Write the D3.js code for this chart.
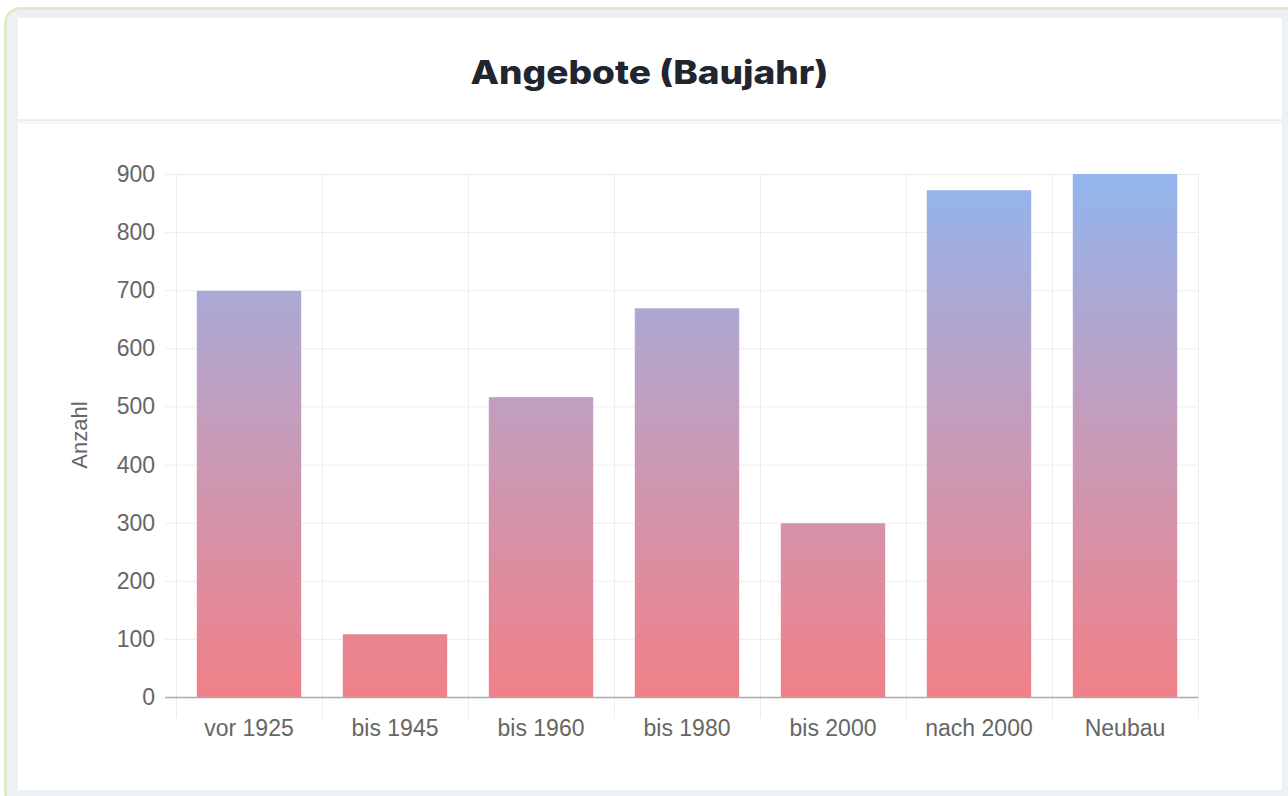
<!DOCTYPE html>
<html><head><meta charset="utf-8">
<script src="https://cdn.jsdelivr.net/npm/d3@7"></script>
<style>html,body{margin:0;padding:0;background:#fff;overflow:hidden}</style>
</head><body>
<svg id="c" width="1288" height="796"></svg>
<script>
const categories = ["vor 1925","bis 1945","bis 1960","bis 1980","bis 2000","nach 2000","Neubau"];
const values = [699, 108, 516, 669, 299, 872, 900];
const yTicks = [0,100,200,300,400,500,600,700,800,900];
const title = "Angebote (Baujahr)";
const yTitle = "Anzahl";

(function(){
const svg = d3.select("#c");
// card
svg.append("rect").attr("x",5.5).attr("y",8.5).attr("width",1300).attr("height",800).attr("rx",15)
  .attr("fill","#edf1f5").attr("stroke","#e2e9c8").attr("stroke-width",3);
svg.append("rect").attr("x",18).attr("y",18).attr("width",1264).attr("height",772).attr("fill","#fff");
svg.append("rect").attr("x",18).attr("y",119).attr("width",1264).attr("height",2).attr("fill","#eceef1");
svg.append("rect").attr("x",18).attr("y",121).attr("width",1264).attr("height",3).attr("fill","#f7f8f9");

svg.append("text").attr("x",649.5).attr("y",84).attr("text-anchor","middle")
  .attr("font-family","Inter, 'Open Sans', sans-serif").attr("font-weight",800)
  .attr("font-size",32).attr("fill","#21252f")
  .attr("textLength",358).attr("lengthAdjust","spacingAndGlyphs").text(title);

const pLeft=176, pRight=1198, pTop=174, pBottom=697;
const x = d3.scaleBand().domain(categories).range([pLeft,pRight]).paddingInner(0).paddingOuter(0);
const y = d3.scaleLinear().domain([0,900]).range([pBottom,pTop]);

const defs = svg.append("defs");
const g = defs.append("linearGradient").attr("id","grad").attr("gradientUnits","userSpaceOnUse")
  .attr("x1",0).attr("x2",0).attr("y1",y(900)).attr("y2",y(0));
g.append("stop").attr("offset","0%").attr("stop-color","#92b5ee");
g.append("stop").attr("offset","50%").attr("stop-color","#c79bb9");
g.append("stop").attr("offset","100%").attr("stop-color","#f08088");

const grid = svg.append("g");
grid.selectAll("line.h").data(yTicks.filter(d=>d>0)).join("line")
  .attr("x1",pLeft-11).attr("x2",pRight).attr("y1",d=>y(d)+0.5).attr("y2",d=>y(d)+0.5)
  .attr("stroke","#ededed").attr("stroke-width",1);
const bounds = categories.map(c=>x(c)).concat([pRight]);
grid.selectAll("line.v").data(bounds).join("line")
  .attr("x1",d=>d+0.5).attr("x2",d=>d+0.5).attr("y1",pTop).attr("y2",pBottom+21)
  .attr("stroke","#ededed").attr("stroke-width",1);

const bw = x.bandwidth()*0.715;
svg.append("g").selectAll("rect").data(values).join("rect")
  .attr("x",(d,i)=>x(categories[i])+(x.bandwidth()-bw)/2)
  .attr("width",bw)
  .attr("y",d=>y(d)).attr("height",d=>y(0)-y(d))
  .attr("fill","url(#grad)");

svg.append("line").attr("x1",pLeft-11).attr("x2",pRight).attr("y1",pBottom+0.5).attr("y2",pBottom+0.5)
  .attr("stroke","#aaaaaa").attr("stroke-width",1.3);

const font = "'Liberation Sans', Arial, sans-serif";
svg.append("g").selectAll("text").data(yTicks).join("text")
  .attr("x",155).attr("y",d=>y(d)).attr("dy","0.35em").attr("text-anchor","end")
  .attr("font-family",font).attr("font-size",23).attr("fill","#666").text(d=>d);
svg.append("g").selectAll("text").data(categories).join("text")
  .attr("x",d=>x(d)+x.bandwidth()/2).attr("y",728).attr("dy","0.35em").attr("text-anchor","middle")
  .attr("font-family",font).attr("font-size",23).attr("fill","#666").text(d=>d);
svg.append("text").attr("transform","translate(87,435) rotate(-90)").attr("text-anchor","middle")
  .attr("font-family",font).attr("font-size",22).attr("fill","#666").text(yTitle);
})();
</script>
</body></html>
